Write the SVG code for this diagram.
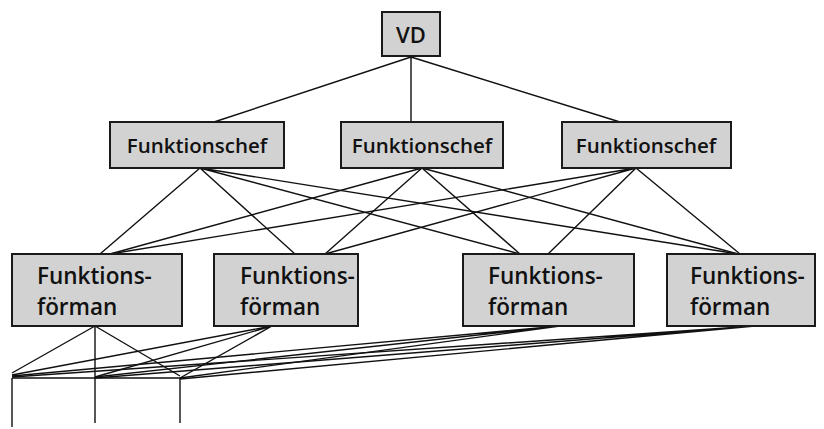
<svg xmlns="http://www.w3.org/2000/svg" width="824" height="429" viewBox="0 0 824 429">
<style>
.box{fill:#d2d2d2;stroke:#1a1a1a;stroke-width:2}
.t{font-family:"Open Sans","Noto Sans",sans-serif;fill:#111;font-weight:600}
.c{stroke:#111;stroke-width:1.4;fill:none}
</style>
<rect width="824" height="429" fill="#fff"/>
<g id="connectors">
<path class="c" d="M411 57L214 122M411 57L411 122M411 57L620 122"/>
<path class="c" d="M200 168L100 254M200 168L295 254M200 168L520 254M200 168L738 254"/>
<path class="c" d="M422 168L110 254M422 168L325 254M422 168L520 254M422 168L738 254"/>
<path class="c" d="M636 168L110 254M636 168L325 254M636 168L548 254M636 168L740 254"/>
<path class="c" d="M95 326L12 373M95 326L180 376M95 326L95 423"/>
<path class="c" d="M272 326L12 375M272 326L95 377M272 326L180 378"/>
<path class="c" d="M560 326L12 376M560 326L95 377M560 326L180 378"/>
<path class="c" d="M755 326L12 377M755 326L95 378M755 326L180 379"/>
<path class="c" d="M12 378L182 378M12 378L12 427M180 378L180 423"/>
</g>
<g id="vd"><rect class="box" x="382" y="12" width="58" height="44"/><text class="t" x="411" y="43" font-size="22" text-anchor="middle">VD</text></g>
<g id="chef1"><rect class="box" x="110" y="122" width="174" height="46"/><text class="t" x="197" y="153" font-size="20.5" text-anchor="middle">Funktionschef</text></g>
<g id="chef2"><rect class="box" x="341" y="122" width="162" height="46"/><text class="t" x="422" y="153" font-size="20.5" text-anchor="middle">Funktionschef</text></g>
<g id="chef3"><rect class="box" x="562" y="122" width="169" height="46"/><text class="t" x="646" y="153" font-size="20.5" text-anchor="middle">Funktionschef</text></g>
<g id="forman1"><rect class="box" x="12" y="254" width="170" height="72"/><text class="t" x="37" y="284" font-size="22.5">Funktions-</text><text class="t" x="37" y="315" font-size="22.5">förman</text></g>
<g id="forman2"><rect class="box" x="214" y="254" width="144" height="72"/><text class="t" x="240" y="284" font-size="22.5">Funktions-</text><text class="t" x="240" y="315" font-size="22.5">förman</text></g>
<g id="forman3"><rect class="box" x="463" y="254" width="171" height="72"/><text class="t" x="488" y="284" font-size="22.5">Funktions-</text><text class="t" x="488" y="315" font-size="22.5">förman</text></g>
<g id="forman4"><rect class="box" x="667" y="254" width="148" height="72"/><text class="t" x="690" y="284" font-size="22.5">Funktions-</text><text class="t" x="690" y="315" font-size="22.5">förman</text></g>
</svg>
